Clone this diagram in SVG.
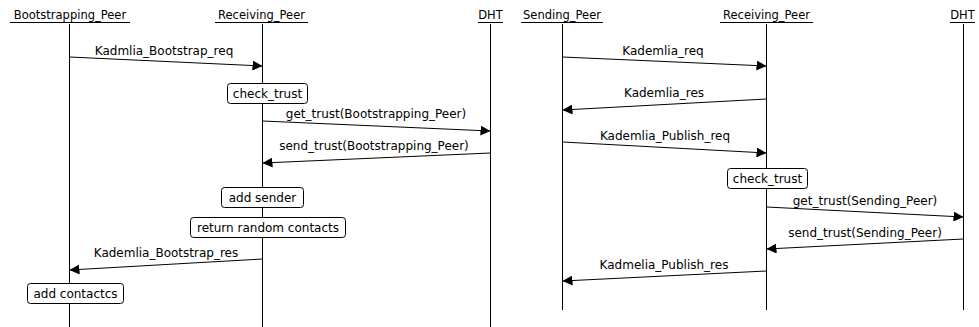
<svg xmlns="http://www.w3.org/2000/svg" width="979" height="327" viewBox="0 0 979 327">
<style>
text{font-family:"DejaVu Sans",sans-serif;font-size:12px;fill:#000}
.hd{font-size:11.5px}
.h{text-anchor:middle}
.ul{stroke:#000;stroke-width:1}
.life{stroke:#000;stroke-width:1}
.msg{stroke:#000;stroke-width:1;fill:none;marker-end:url(#ah)}
.box{fill:#fff;stroke:#000;stroke-width:1}
</style>
<defs>
<marker id="ah" markerWidth="10" markerHeight="10" refX="10" refY="5" orient="auto" markerUnits="userSpaceOnUse">
<path d="M0,0 L10,5 L0,10 Z" fill="#000"/>
</marker>
</defs>
<g id="lifelines">
<g id="bootstrapping_peer"><text class="h hd" x="70" y="19">Bootstrapping_Peer</text><line class="ul" x1="10" y1="22.5" x2="130" y2="22.5"/><line class="life" x1="69.5" y1="24" x2="69.5" y2="327"/></g>
<g id="receiving_peer_1"><text class="h hd" x="261.5" y="19">Receiving_Peer</text><line class="ul" x1="215" y1="22.5" x2="308" y2="22.5"/><line class="life" x1="262.5" y1="24" x2="262.5" y2="327"/></g>
<g id="dht_1"><text class="h hd" x="490.5" y="19">DHT</text><line class="ul" x1="478" y1="22.5" x2="503" y2="22.5"/><line class="life" x1="490.5" y1="24" x2="490.5" y2="327"/></g>
<g id="sending_peer"><text class="h hd" x="562" y="19">Sending_Peer</text><line class="ul" x1="521" y1="22.5" x2="603" y2="22.5"/><line class="life" x1="562.5" y1="24" x2="562.5" y2="310"/></g>
<g id="receiving_peer_2"><text class="h hd" x="766.5" y="19">Receiving_Peer</text><line class="ul" x1="720" y1="22.5" x2="813" y2="22.5"/><line class="life" x1="766.5" y1="24" x2="766.5" y2="310"/></g>
<g id="dht_2"><text class="h hd" x="962.5" y="19">DHT</text><line class="ul" x1="950" y1="22.5" x2="975" y2="22.5"/><line class="life" x1="963.5" y1="24" x2="963.5" y2="310"/></g>
</g>
<g id="actions">
<g id="check_trust_1"><rect class="box" x="227.5" y="83.5" width="80" height="20" rx="3"/><text class="h" x="267.5" y="98">check_trust</text></g>
<g id="add_sender"><rect class="box" x="221.5" y="187.5" width="82" height="20" rx="3"/><text class="h" x="262.5" y="202">add sender</text></g>
<g id="return_random_contacts"><rect class="box" x="190.5" y="217.5" width="155" height="20" rx="3"/><text class="h" x="268" y="232">return random contacts</text></g>
<g id="add_contacts"><rect class="box" x="27.5" y="283.5" width="96" height="20" rx="3"/><text class="h" x="75.5" y="298">add contactcs</text></g>
<g id="check_trust_2"><rect class="box" x="727.5" y="168.5" width="80" height="20" rx="3"/><text class="h" x="767.5" y="183">check_trust</text></g>
</g>
<g id="connectors">
<line class="msg" x1="69.5" y1="57" x2="262.5" y2="66"/><text class="h" x="164" y="55">Kadmlia_Bootstrap_req</text>
<line class="msg" x1="262.5" y1="121" x2="490.5" y2="131"/><text class="h" x="376" y="118">get_trust(Bootstrapping_Peer)</text>
<line class="msg" x1="490.5" y1="153" x2="262.5" y2="163"/><text class="h" x="374" y="150">send_trust(Bootstrapping_Peer)</text>
<line class="msg" x1="262.5" y1="259" x2="69.5" y2="270"/><text class="h" x="166" y="257">Kademlia_Bootstrap_res</text>
<line class="msg" x1="562.5" y1="57" x2="766.5" y2="66"/><text class="h" x="663" y="55">Kademlia_req</text>
<line class="msg" x1="766.5" y1="99" x2="562.5" y2="110"/><text class="h" x="664" y="97">Kademlia_res</text>
<line class="msg" x1="562.5" y1="142" x2="766.5" y2="153"/><text class="h" x="665" y="140">Kademlia_Publish_req</text>
<line class="msg" x1="766.5" y1="207" x2="963.5" y2="217"/><text class="h" x="865" y="205">get_trust(Sending_Peer)</text>
<line class="msg" x1="963.5" y1="239" x2="766.5" y2="249"/><text class="h" x="865" y="237">send_trust(Sending_Peer)</text>
<line class="msg" x1="766.5" y1="271" x2="562.5" y2="281"/><text class="h" x="664" y="269">Kadmelia_Publish_res</text>
</g>
</svg>
